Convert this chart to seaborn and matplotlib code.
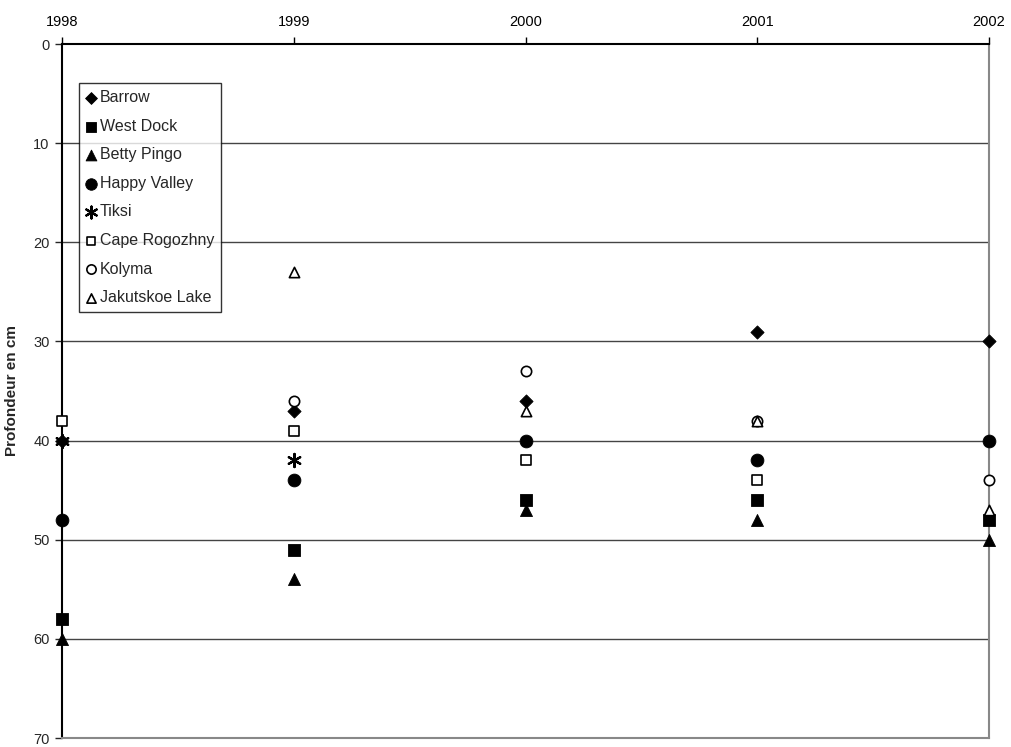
import matplotlib
matplotlib.use("Agg")
import matplotlib.pyplot as plt
import seaborn as sns
import pandas as pd

years = [1998, 1999, 2000, 2001, 2002]

# depth in cm per site (None = no measurement)
barrow        = [40, 37, 36, 29, 30]
west_dock     = [58, 51, 46, 46, 48]
betty_pingo   = [60, 54, 47, 48, 50]
happy_valley  = [48, 44, 40, 42, 40]
tiksi         = [40, 42, None, None, None]
cape_rogozhny = [38, 39, 42, 44, None]
kolyma        = [None, 36, 33, 38, 44]
jakutskoe     = [None, 23, 37, 38, 47]

sites = ["Barrow", "West Dock", "Betty Pingo", "Happy Valley",
         "Tiksi", "Cape Rogozhny", "Kolyma", "Jakutskoe Lake"]
values = [barrow, west_dock, betty_pingo, happy_valley,
          tiksi, cape_rogozhny, kolyma, jakutskoe]

# marker, filled?, size, edge width
styles = {
    "Barrow":         ("D", True, 45, 0.6),
    "West Dock":      ("s", True, 75, 0.6),
    "Betty Pingo":    ("^", True, 75, 0.6),
    "Happy Valley":   ("o", True, 85, 0.6),
    "Tiksi":          ((6, 2, 0), True, 90, 1.6),
    "Cape Rogozhny":  ("s", False, 45, 1.2),
    "Kolyma":         ("o", False, 55, 1.2),
    "Jakutskoe Lake": ("^", False, 55, 1.2),
}

rows = []
for site, vals in zip(sites, values):
    for yr, v in zip(years, vals):
        if v is not None:
            rows.append({"site": site, "year": yr, "depth": v})
df = pd.DataFrame(rows)

sns.set_style("white")
plt.rcParams["font.family"] = ["Liberation Sans", "DejaVu Sans"]
plt.rcParams["font.size"] = 10.5

fig = plt.figure(figsize=(10.11, 7.47), dpi=100)
ax = fig.add_axes([62 / 1011, 1 - 738 / 747, (989 - 62) / 1011, (738 - 44) / 747])

for site in sites:
    m, filled, s, lw = styles[site]
    d = df[df["site"] == site]
    sns.scatterplot(data=d, x="year", y="depth", ax=ax, marker=m, s=s,
                    color="black",
                    facecolor="black" if filled else "white",
                    edgecolor="black", linewidth=lw,
                    label=site, clip_on=False, zorder=3)

ax.set_xlim(1998, 2002)
ax.set_ylim(70, 0)
ax.set_xticks(years)
ax.set_yticks(range(0, 71, 10))
ax.xaxis.tick_top()
ax.tick_params(axis="x", top=True, bottom=False, direction="out", length=5,
               width=1, colors="black", labelsize=10.5, pad=6)
ax.tick_params(axis="y", left=True, direction="out", length=5, width=1,
               labelsize=10.5, pad=4)
ax.set_xlabel("")
ax.set_ylabel("Profondeur en cm", fontweight="bold", fontsize=11, labelpad=10)

for yv in range(10, 70, 10):
    ax.axhline(yv, color="#444444", linewidth=1, zorder=1)

ax.spines["left"].set_color("black")
ax.spines["top"].set_color("black")
ax.spines["right"].set_color("#888888")
ax.spines["bottom"].set_color("#888888")
for sp in ax.spines.values():
    sp.set_linewidth(1.5)
    sp.set_visible(True)

leg = ax.legend(loc="upper left", bbox_to_anchor=(17 / 927, 1 - 39 / 694),
                frameon=True, fancybox=False, edgecolor="black",
                fontsize=11.5, labelspacing=0.85, handlelength=0.6,
                handletextpad=0.25, borderpad=0.45, borderaxespad=0,
                markerscale=0.9)
leg.get_frame().set_linewidth(1)

plt.savefig("out.png", dpi=100)
